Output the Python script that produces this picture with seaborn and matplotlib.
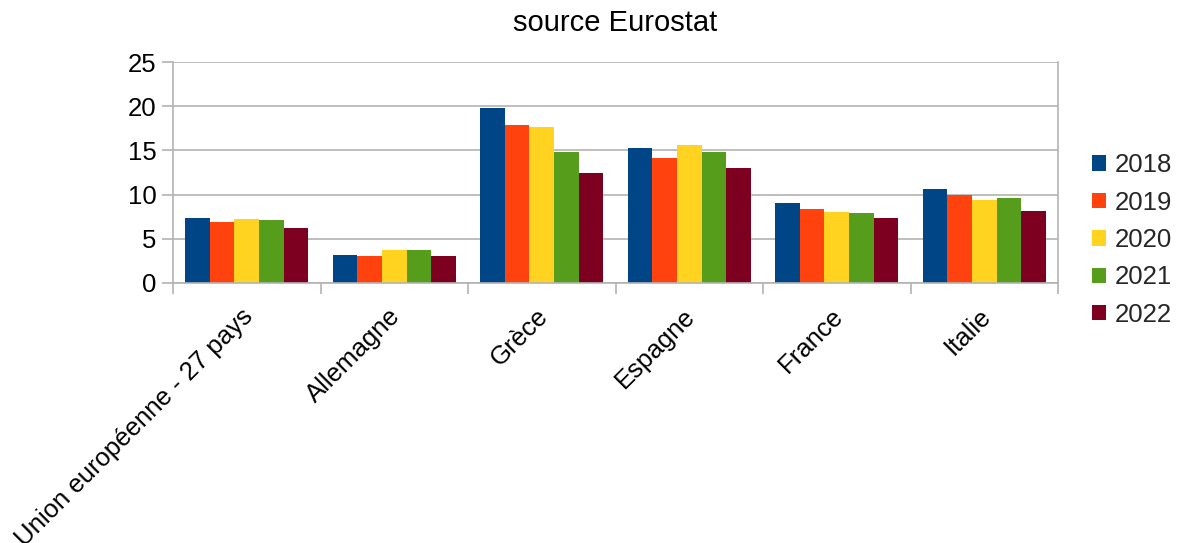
import matplotlib
matplotlib.use("Agg")
import matplotlib.pyplot as plt
import matplotlib.transforms as mtransforms
import seaborn as sns
import pandas as pd
from matplotlib.ticker import FixedLocator

categories = ["Union européenne - 27 pays", "Allemagne", "Grèce", "Espagne", "France", "Italie"]
years = ["2018", "2019", "2020", "2021", "2022"]
v2018 = [7.4, 3.2, 19.8, 15.3, 9.0, 10.6]
v2019 = [6.9, 3.0, 17.9, 14.1, 8.4, 9.9]
v2020 = [7.2, 3.7, 17.6, 15.6, 8.0, 9.4]
v2021 = [7.1, 3.7, 14.8, 14.8, 7.9, 9.6]
v2022 = [6.2, 3.1, 12.5, 13.0, 7.3, 8.1]
colors = ["#004586", "#ff420e", "#ffd320", "#579d1c", "#7e0021"]
title = "source Eurostat"

series = [v2018, v2019, v2020, v2021, v2022]
rows = []
for y, vals in zip(years, series):
    for c, v in zip(categories, vals):
        rows.append({"pays": c, "année": y, "valeur": v})
df = pd.DataFrame(rows)

sns.set_theme(style="white")
plt.rcParams["font.family"] = ["Liberation Sans", "DejaVu Sans"]

fig = plt.figure(figsize=(11.79, 5.43), dpi=100)
ax = fig.add_axes([173/1179, 1-283/543, (1058-173)/1179, (283-62)/543])

sns.barplot(data=df, x="pays", y="valeur", hue="année", order=categories,
            hue_order=years, palette=colors, width=0.835, saturation=1,
            ax=ax, legend=True, linewidth=0)

ax.set_ylim(0, 25)
ax.set_xlim(-0.5, len(categories) - 0.5)
ax.set_yticks([0, 5, 10, 15, 20, 25])
ax.yaxis.grid(True, color="#b3b3b3", linewidth=1.2)
ax.set_axisbelow(True)
ax.set_xlabel("")
ax.set_ylabel("")
for s in ax.spines.values():
    s.set_color("#b3b3b3")
    s.set_linewidth(1.2)
ax.spines["top"].set_visible(False)

ax.tick_params(axis="y", which="major", length=8, width=1.2, color="#b3b3b3",
               labelsize=18.5, labelcolor="black", left=True, pad=4)
ax.tick_params(axis="x", which="major", length=0, labelsize=18.5, labelcolor="black", pad=13)
ax.xaxis.set_minor_locator(FixedLocator([i - 0.5 for i in range(len(categories) + 1)]))
ax.tick_params(axis="x", which="minor", length=8, width=1.2, color="#b3b3b3", bottom=True)

ax.set_xticks(range(len(categories)))
ax.set_xticklabels(categories, rotation=45, ha="right", rotation_mode="anchor")
offset = mtransforms.ScaledTranslation(-0.06, -0.03, fig.dpi_scale_trans)
for lbl in ax.get_xticklabels():
    lbl.set_transform(lbl.get_transform() + offset)

ax.set_title(title, fontsize=21, pad=22, color="black")

handles, labels = ax.get_legend_handles_labels()
ax.legend_.remove()
fig.legend(handles, labels, loc="center left", bbox_to_anchor=(1092/1179, 1-240/543),
           frameon=False, fontsize=18.5, handlelength=0.55, handleheight=0.55,
           handletextpad=0.35, labelspacing=0.52, borderaxespad=0, borderpad=0)

fig.savefig("out.png", dpi=100)
